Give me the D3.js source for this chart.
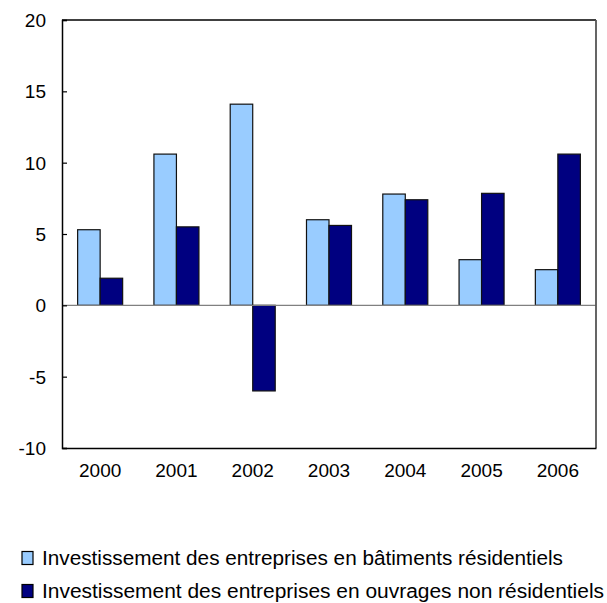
<!DOCTYPE html>
<html>
<head>
<meta charset="utf-8">
<script src="https://cdn.jsdelivr.net/npm/d3@7"></script>
<style>
  body { margin: 0; background: #fff; }
  text { font-family: "Liberation Sans", Arial, sans-serif; fill: #000; }
</style>
</head>
<body>
<script>
// données
var years = ['2000', '2001', '2002', '2003', '2004', '2005', '2006'];
var residentiels = [5.3, 10.6, 14.1, 6.0, 7.8, 3.2, 2.5];
var nonResidentiels = [1.9, 5.5, -6.0, 5.6, 7.4, 7.85, 10.6];
var seriesNames = [
  'Investissement des entreprises en bâtiments résidentiels',
  'Investissement des entreprises en ouvrages non résidentiels'
];
var seriesColors = ['#99ccff', '#000080'];
var yTicks = [-10, -5, 0, 5, 10, 15, 20];

var width = 607, height = 603;
var mLeft = 62, mRight = 596, mTop = 20, mBottom = 448;

var svg = d3.select('body').append('svg')
  .attr('width', width)
  .attr('height', height);

var x = d3.scaleBand()
  .domain(years)
  .range([mLeft, mRight])
  .paddingInner(0.41)
  .paddingOuter(0.205);

var xs = d3.scaleBand()
  .domain([0, 1])
  .range([0, x.bandwidth()]);

var y = d3.scaleLinear()
  .domain([-10, 20])
  .range([mBottom, mTop]);

// barres
var rows = years.map(function (yr, i) {
  return { year: yr, vals: [residentiels[i], nonResidentiels[i]] };
});

var groups = svg.selectAll('.grp')
  .data(rows)
  .enter()
  .append('g')
  .attr('class', 'grp')
  .attr('transform', function (d) { return 'translate(' + x(d.year) + ',0)' });

groups.selectAll('rect')
  .data(function (d) { return d.vals.map(function (v, k) { return { v: v, k: k } }) })
  .enter()
  .append('rect')
  .attr('x', function (d) { return xs(d.k) })
  .attr('width', xs.bandwidth())
  .attr('y', function (d) { return y(Math.max(0, d.v)) })
  .attr('height', function (d) { return Math.abs(y(d.v) - y(0)) })
  .style('fill', function (d) { return seriesColors[d.k] })
  .style('stroke', '#111')
  .style('stroke-width', 1.2);

// ligne zéro
svg.append('line')
  .attr('x1', mLeft).attr('x2', mRight)
  .attr('y1', y(0)).attr('y2', y(0))
  .style('stroke', '#808080')
  .style('stroke-width', 1.2);

// cadre
svg.append('line')
  .attr('x1', mLeft).attr('x2', mRight)
  .attr('y1', mTop).attr('y2', mTop)
  .style('stroke', '#000').style('stroke-width', 1.5);
svg.append('line')
  .attr('x1', mRight).attr('x2', mRight)
  .attr('y1', mTop).attr('y2', mBottom)
  .style('stroke', '#555').style('stroke-width', 1.8);

// axes
var yAxis = svg.append('g')
  .attr('transform', 'translate(' + mLeft + ',0)')
  .call(d3.axisRight(y).tickValues(yTicks).tickSize(5).tickFormat(function (d) { return String(d) }));
yAxis.select('.domain').style('stroke', '#000').style('stroke-width', 1.5);
yAxis.selectAll('.tick line').style('stroke', '#000').style('stroke-width', 1.2);
yAxis.selectAll('.tick text')
  .attr('x', -16)
  .attr('dy', '0.35em')
  .style('text-anchor', 'end')
  .style('font-size', '19px')
  .style('font-family', '"Liberation Sans", Arial, sans-serif');

var xAxis = svg.append('g')
  .attr('transform', 'translate(0,' + mBottom + ')')
  .call(d3.axisBottom(x).tickSize(0));
xAxis.select('.domain').style('stroke', '#000').style('stroke-width', 1.5);
xAxis.selectAll('.tick text')
  .attr('y', 16)
  .attr('dy', '0.71em')
  .style('font-size', '19px')
  .style('font-family', '"Liberation Sans", Arial, sans-serif');

// légende
var legendWidths = [521, 562];
var legend = svg.selectAll('.leg')
  .data(seriesNames)
  .enter()
  .append('g')
  .attr('class', 'leg')
  .attr('transform', function (d, i) { return 'translate(22,' + (565 + i * 33) + ')' });

legend.append('rect')
  .attr('x', 0).attr('y', -13.5)
  .attr('width', 11).attr('height', 13)
  .style('fill', function (d, i) { return seriesColors[i] })
  .style('stroke', '#000')
  .style('stroke-width', 1.2);

legend.append('text')
  .attr('x', 20)
  .attr('textLength', function (d, i) { return legendWidths[i] })
  .attr('lengthAdjust', 'spacingAndGlyphs')
  .style('font-size', '20px')
  .text(function (d) { return d });
</script>
</body>
</html>
